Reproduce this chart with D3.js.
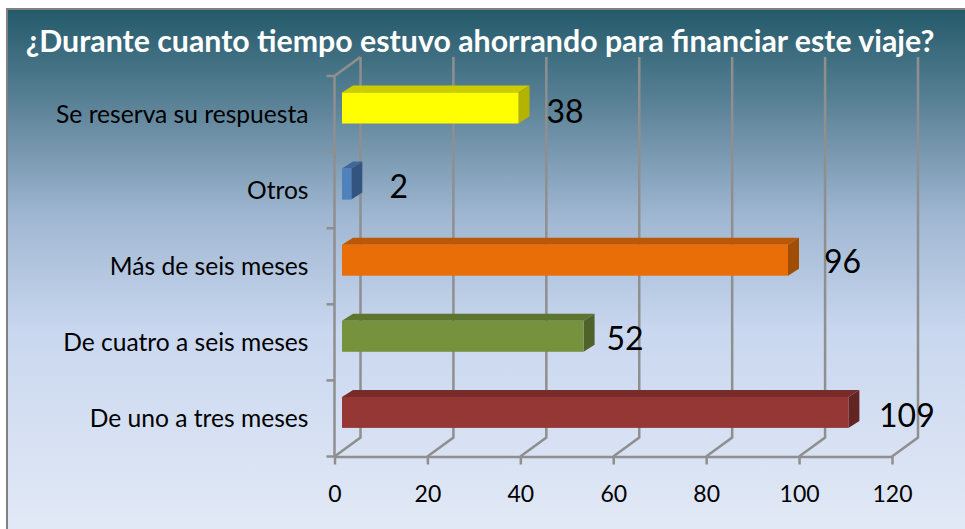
<!DOCTYPE html>
<html>
<head>
<meta charset="utf-8">
<script src="https://cdn.jsdelivr.net/npm/d3@7"></script>
<style>
  html, body { margin: 0; padding: 0; background: #fff; }
  svg { display: block; font-family: Lato, "Open Sans", sans-serif; }
</style>
</head>
<body>
<div id="chart"></div>
<script>
// Values
const categories = ["Se reserva su respuesta", "Otros", "Más de seis meses", "De cuatro a seis meses", "De uno a tres meses"];
const values = [38, 2, 96, 52, 109];
const xTicks = [0, 20, 40, 60, 80, 100, 120];
const titleText = "¿Durante cuanto tiempo estuvo ahorrando para financiar este viaje?";

const frontColors = ["#ffff00", "#4f81bd", "#ea6e08", "#76923c", "#953735"];
const topColors = ["#cccc00", "#3f6797", "#bb5806", "#5e7530", "#772c2a"];
const sideColors = ["#b3b300", "#345480", "#a04d05", "#4f622a", "#632523"];

// the data labels were dragged by hand in the original, so each has its own nudge
const labelNudgeX = [54, 55, 62, 49, 66];
const labelNudgeY = [-2, -3, -4, -4, -3];

const width = 965;
const height = 529;
const depthX = 26;   // wall depth of the 3D box
const depthY = 19;
const barDepthX = 11;
const barDepthY = 7;
const barInset = 7.5;
const barHeight = 31;

const x = d3.scaleLinear().domain([0, 120]).range([334.5, 892]);
const y = d3.scaleBand().domain(categories).range([76, 456.5]);

const svg = d3.select("#chart")
  .append("svg")
  .attr("width", width)
  .attr("height", height);

// Background panel
const grad = svg.append("defs").append("linearGradient")
  .attr("id", "bg")
  .attr("x1", 0).attr("y1", 0).attr("x2", 0).attr("y2", 1);
[[0, "#235a6a"], [0.18, "#5a8196"], [0.4, "#a0b7d2"], [0.62, "#c9d7ef"], [1, "#e2e9f6"]].forEach(s => {
  grad.append("stop").attr("offset", s[0]).attr("stop-color", s[1]);
});

svg.append("rect")
  .attr("x", 7).attr("y", 9)
  .attr("width", width - 7).attr("height", height - 9)
  .attr("fill", "url(#bg)");
svg.append("path")
  .attr("d", `M7,${height}V9H${width}`)
  .attr("fill", "none")
  .attr("stroke", "#808080")
  .attr("stroke-width", 2);

svg.append("text")
  .attr("x", 480)
  .attr("y", 52)
  .attr("text-anchor", "middle")
  .attr("fill", "#fff")
  .attr("font-weight", 700)
  .attr("font-size", 30.3)
  .text(titleText);

// Walls and gridlines
const gridColor = "#8f8f8f";
const grid = svg.append("g")
  .attr("fill", "none")
  .attr("stroke", gridColor)
  .attr("stroke-width", 2.5);

grid.selectAll("path.wall")
  .data(xTicks)
  .enter()
  .append("path")
  .attr("class", "wall")
  .attr("d", d => `M${x(d)},${y.range()[1]}l${depthX},${-depthY}V${y.range()[0] - depthY}`);

grid.append("path")
  .attr("d", `M${x(0)},${y.range()[1]}V${y.range()[0]}l${depthX},${-depthY}`);

// Category separators on the left axis
const sepPositions = categories.map(c => y(c)).concat(y.range()[1]);
grid.selectAll("line.sep")
  .data(sepPositions)
  .enter()
  .append("line")
  .attr("class", "sep")
  .attr("x1", x(0) - 8)
  .attr("x2", x(0))
  .attr("y1", d => d)
  .attr("y2", d => d);

// Axes
const xAxis = svg.append("g")
  .attr("transform", `translate(0,${y.range()[1]})`)
  .call(d3.axisBottom(x).tickValues(xTicks).tickSize(8).tickPadding(21).tickSizeOuter(0));
xAxis.select(".domain").attr("stroke", gridColor).attr("stroke-width", 2.5);
xAxis.selectAll(".tick line").attr("stroke", gridColor).attr("stroke-width", 2.5);
xAxis.selectAll("text").attr("fill", "#000").attr("font-size", 23).attr("font-family", "Lato, sans-serif");

const yAxis = svg.append("g")
  .attr("transform", `translate(${x(0)},1)`)
  .call(d3.axisLeft(y).tickSize(0).tickPadding(26));
yAxis.select(".domain").remove();
yAxis.selectAll("text").attr("fill", "#000").attr("font-size", 24.6).attr("font-family", "Lato, sans-serif");

// Bars: top face, side face, then the front
const bars = svg.append("g")
  .selectAll("g")
  .data(categories)
  .enter()
  .append("g");

const barLeft = x(0) + barInset;
const barRight = (d, i) => barLeft + x(values[i]) - x(0);
const barTop = d => y(d) + 16.5;

bars.append("path")
  .attr("d", (d, i) => `M${barLeft},${barTop(d)}l${barDepthX},${-barDepthY}H${barRight(d, i) + barDepthX}l${-barDepthX},${barDepthY}Z`)
  .attr("fill", (d, i) => topColors[i]);

bars.append("path")
  .attr("d", (d, i) => `M${barRight(d, i)},${barTop(d)}l${barDepthX},${-barDepthY}v${barHeight}l${-barDepthX},${barDepthY}Z`)
  .attr("fill", (d, i) => sideColors[i]);

bars.append("rect")
  .attr("x", barLeft)
  .attr("y", barTop)
  .attr("width", (d, i) => barRight(d, i) - barLeft)
  .attr("height", barHeight)
  .attr("fill", (d, i) => frontColors[i]);

bars.append("text")
  .attr("x", (d, i) => x(values[i]) + labelNudgeX[i])
  .attr("y", (d, i) => y(d) + y.bandwidth() / 2 + labelNudgeY[i])
  .attr("dy", "0.35em")
  .attr("text-anchor", "middle")
  .attr("fill", "#000")
  .attr("font-size", 32)
  .text((d, i) => values[i]);
</script>
</body>
</html>
